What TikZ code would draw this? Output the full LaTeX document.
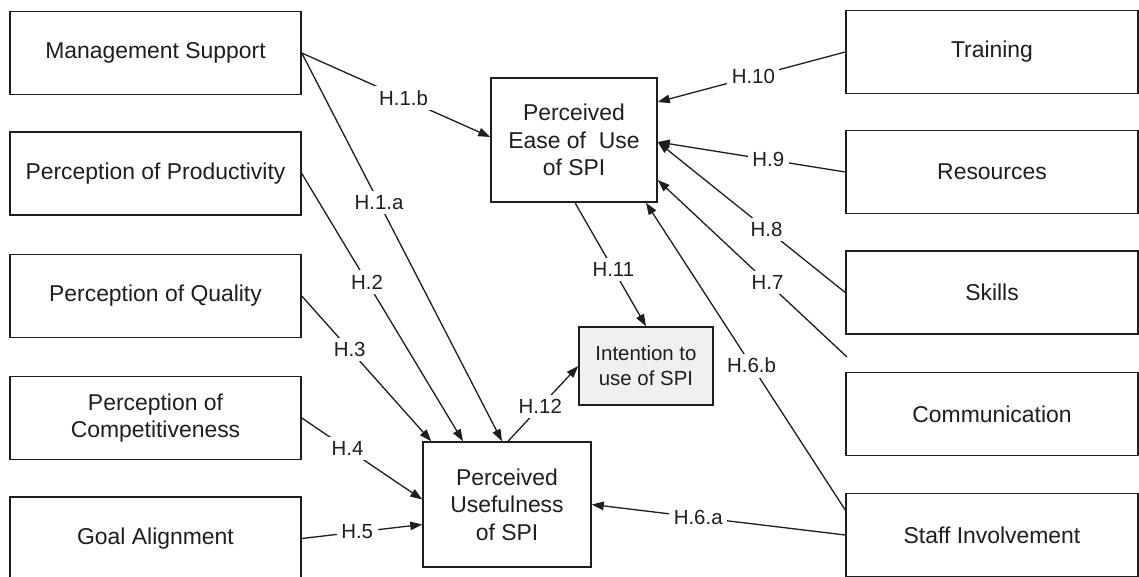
\documentclass[tikz,border=0pt]{standalone}
\usepackage{fontspec}
\setmainfont{Liberation Sans}
\usetikzlibrary{arrows.meta}
\definecolor{ink}{HTML}{1E1E1E}
\definecolor{goalfill}{HTML}{F0F0F0}
\begin{document}
\begin{tikzpicture}[x=1bp,y=-1bp,
  box/.style={draw=ink, line width=1.5bp, rectangle, inner sep=0pt,
    align=center, text=ink, font=\fontsize{23}{27.6}\selectfont},
  sidebox/.style={box, minimum width=291bp, minimum height=83bp},
  centrebox/.style={box, minimum width=167bp, minimum height=124bp},
  goalbox/.style={box, fill=goalfill, minimum width=134bp, minimum height=78bp,
    font=\fontsize{20.5}{25}\selectfont},
  link/.style={draw=ink, line width=1.3bp, -{Triangle[length=12bp,width=8.5bp]}},
  hyp/.style={fill=white, inner sep=4.5bp, text=ink, font=\fontsize{20.5}{24}\selectfont}]
\clip (0,0) rectangle (1139,577);
\fill[white] (0,0) rectangle (1139,577);

% antecedents on the left
\node[sidebox] (ms)  at (155.5,53)   {Management Support};
\node[sidebox] (pp)  at (155.5,173.5){Perception of Productivity};
\node[sidebox] (pq)  at (155.5,296)  {Perception of Quality};
\node[sidebox] (pc)  at (155.5,418)  {Perception of\\Competitiveness};
\node[sidebox] (ga)  at (155.5,538.5){Goal Alignment};

% antecedents on the right
\node[sidebox, minimum width=292bp] (tr) at (992,52)    {Training};
\node[sidebox, minimum width=292bp] (rs) at (992,172)   {Resources};
\node[sidebox, minimum width=292bp] (sk) at (992,292.5) {Skills};
\node[sidebox, minimum width=292bp] (cm) at (992,414)   {Communication};
\node[sidebox, minimum width=292bp] (si) at (992,535)   {Staff Involvement};

% core constructs
\node[centrebox, minimum width=166bp] (peu) at (574,140) {Perceived\\Ease of\ ~Use\\of SPI};
\node[centrebox, minimum width=168bp, minimum height=125bp] (pu) at (507,504.5) {Perceived\\Usefulness\\of SPI};
\node[goalbox] (int) at (646,366) {Intention to\\use of SPI};

\coordinate (h7start) at (847,357);

% hypotheses into perceived ease of use
\draw[link] (ms.east) -- node[hyp, pos=0.54] {H.1.b} ([yshift=3bp]peu.west);
\draw[link] (tr.west) -- node[hyp, pos=0.49] {H.10} ([yshift=38bp]peu.east);
\draw[link] (rs.west) -- node[hyp, pos=0.41] {H.9} ([yshift=-2bp]peu.east);
\draw[link] (sk.west) -- node[hyp, pos=0.42] {H.8} ([yshift=-2bp]peu.east);
\draw[link] (h7start) -- node[hyp, pos=0.42] {H.7} ([yshift=-40bp]peu.east);
\draw[link] ([yshift=25bp]si.west) -- node[hyp, pos=0.47] {H.6.b} ([xshift=72bp]peu.south);

% hypotheses into perceived usefulness
\draw[link] (ms.east) -- node[hyp, pos=0.386] {H.1.a} ([xshift=-5bp]pu.north);
\draw[link] (pp.east) -- node[hyp, pos=0.405] {H.2} ([xshift=-44bp]pu.north);
\draw[link] (pq.east) -- node[hyp, pos=0.37] {H.3} ([xshift=9bp]pu.north west);
\draw[link] (pc.east) -- node[hyp, pos=0.38] {H.4} ([yshift=5bp]pu.west);
\draw[link] (ga.east) -- node[hyp, pos=0.46] {H.5} ([yshift=-20bp]pu.west);
\draw[link] (si.west) -- node[hyp, pos=0.58] {H.6.a} (pu.east);

% hypotheses into intention
\draw[link] ([xshift=1bp]peu.south) -- node[hyp, pos=0.54] {H.11} (int.north);
\draw[link] ([xshift=1bp]pu.north) -- node[hyp, pos=0.46] {H.12} (int.west);
\end{tikzpicture}
\end{document}
